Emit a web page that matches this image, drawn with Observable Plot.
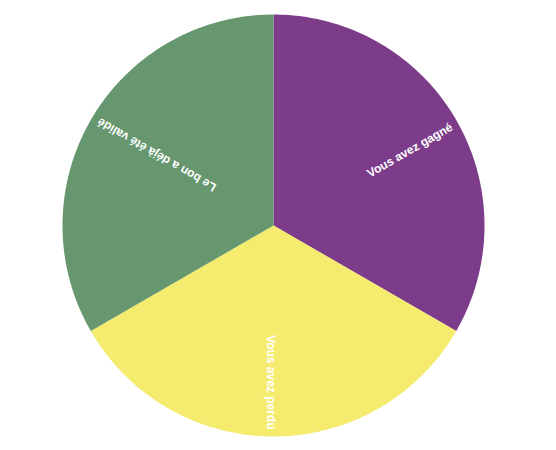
<!DOCTYPE html>
<html>
<head>
<meta charset="utf-8">
<script src="https://cdn.jsdelivr.net/npm/d3@7"></script>
<script src="https://cdn.jsdelivr.net/npm/@observablehq/plot@0.6"></script>
<style>
  html, body { margin: 0; padding: 0; background: #fff; }
  #chart svg { display: block; }
</style>
</head>
<body>
<div id="chart"></div>
<script>
// Data
const labels = ["Vous avez gagné", "Vous avez perdu", "Le bon a déjà été validé"];
const values = [1, 1, 1];
const colors = ["#7d3c8a", "#f4eb6f", "#66976e"];

// Layout constants (pixels)
const W = 556, H = 450;
const CX = 273, CY = 225, R = 211, LABEL_R = 204, TEXT_SHIFT = 3;

const pie = d3.pie().sort(null).value(d => d.value);
const arcs = pie(labels.map((label, i) => ({label, value: values[i], color: colors[i]})));

// slice outlines: center + points along arc
const slicePts = [];
for (const a of arcs) {
  const n = 120;
  slicePts.push({slice: a.data.label, x: 0, y: 0});
  for (let k = 0; k <= n; k++) {
    const t = a.startAngle + (a.endAngle - a.startAngle) * k / n;
    slicePts.push({slice: a.data.label, x: R * Math.sin(t), y: -R * Math.cos(t)});
  }
}

const labelPts = arcs.map(a => {
  const mid = (a.startAngle + a.endAngle) / 2;
  const rot = mid * 180 / Math.PI - 90;
  const th = rot * Math.PI / 180;
  return {
    label: a.data.label,
    x: LABEL_R * Math.sin(mid) - TEXT_SHIFT * Math.sin(th),
    y: -LABEL_R * Math.cos(mid) + TEXT_SHIFT * Math.cos(th),
    rotate: rot
  };
});

const chart = Plot.plot({
  width: W,
  height: H,
  margin: 0,
  x: {domain: [-CX, W - CX], range: [0, W], axis: null},
  y: {domain: [-CY, H - CY], range: [0, H], axis: null},
  marks: [
    ...arcs.map(a => Plot.line(slicePts.filter(p => p.slice === a.data.label), {
      x: "x", y: "y", curve: "linear-closed", fill: a.data.color, stroke: "none"
    })),
    Plot.text(labelPts, {
      x: "x", y: "y", text: "label", rotate: "rotate",
      textAnchor: "end", fill: "white", fontWeight: "bold", fontSize: 12,
      fontFamily: "Liberation Sans, Arial, sans-serif"
    })
  ]
});
document.getElementById("chart").append(chart);
</script>
</body>
</html>
